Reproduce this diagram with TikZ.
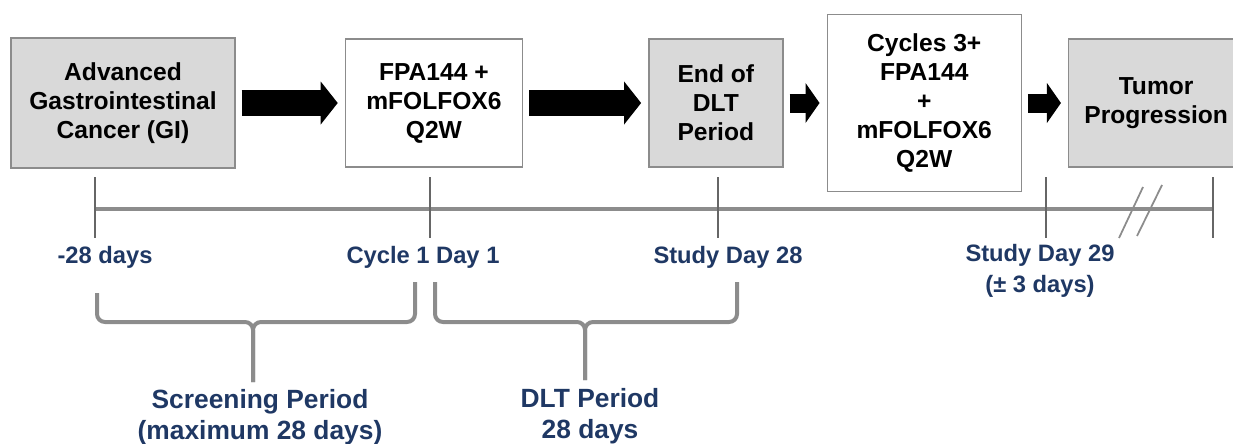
\documentclass[tikz,border=0pt]{standalone}
\usepackage{fontspec}
\setmainfont{Liberation Sans}
\usetikzlibrary{arrows.meta, positioning}
\definecolor{navy}{RGB}{31,56,100}
\definecolor{boxgrey}{RGB}{217,217,217}
\definecolor{edgegrey}{RGB}{140,140,140}
\definecolor{linegrey}{RGB}{140,140,140}

\begin{document}
\begin{tikzpicture}[
    node distance=2cm,
    greybox/.style={rectangle, minimum height=2.56cm, text centered, align=center, draw=edgegrey, line width=0.8pt, fill=boxgrey, font=\fontsize{14}{16.5}\selectfont\bfseries},
    whitebox/.style={greybox, fill=white},
    bigarrow/.style={line width=0.52cm, -{Triangle[length=0.34cm, width=0.86cm, line width=0pt]}, shorten <=0.12cm, shorten >=0.14cm},
    smallarrow/.style={line width=0.38cm, -{Triangle[length=0.28cm, width=0.8cm, line width=0pt]}, shorten <=0.12cm, shorten >=0.14cm},
    timeline/.style={draw=linegrey, line width=0.09cm},
    tickline/.style={draw=black!60, line width=0.6pt},
    slash/.style={draw=linegrey, line width=1pt},
    brace/.style={draw=linegrey, line width=0.08cm, rounded corners=0.16cm},
    daylabel/.style={text=navy, font=\fontsize{13.5}{18}\selectfont\bfseries, align=center},
    periodlabel/.style={text=navy, font=\fontsize{15}{17.5}\selectfont\bfseries, align=center}
]
\useasboundingbox (0,0) rectangle (24.66,-8.86);

% study flow
\node (gi) [greybox, minimum width=4.48cm, minimum height=2.6cm] at (2.46,-2.06) {Advanced\\Gastrointestinal\\Cancer (GI)};
\node (fpa) [whitebox, minimum width=3.54cm, right=2.18cm of gi] {FPA144 +\\mFOLFOX6\\Q2W};
\node (enddlt) [greybox, minimum width=2.68cm, right=2.5cm of fpa] {End of\\DLT\\Period};
\node (cyc3) [whitebox, minimum width=3.88cm, minimum height=3.54cm, right=0.86cm of enddlt] {Cycles 3+\\FPA144\\+\\mFOLFOX6\\Q2W};
\node (tumor) [greybox, minimum width=3.5cm, right=0.92cm of cyc3] {Tumor\\Progression};

\draw [bigarrow] (gi.east) -- (fpa.west);
\draw [bigarrow] (fpa.east) -- (enddlt.west);
\draw [smallarrow] (enddlt.east) -- (cyc3.west);
\draw [smallarrow] (cyc3.east) -- (tumor.west);

% timeline
\coordinate (tl) at (0,-4.18);
\foreach \x [count=\i] in {1.9, 8.6, 14.36, 20.92, 24.26} {
    \coordinate (tk\i) at (\x,-3.54);
}
\draw [timeline] (tk1 |- tl) -- (tk5 |- tl);
\foreach \i in {1,...,5} {
    \draw [tickline] (tk\i) -- ++(0,-1.22);
}
\draw [slash] (22.86,-3.74) -- (22.38,-4.76);
\draw [slash] (23.24,-3.70) -- (22.74,-4.72);

\node (d1) [daylabel] at (2.1,-5.14) {-28 days};
\node (d2) [daylabel] at (8.46,-5.14) {Cycle 1 Day 1};
\node (d3) [daylabel] at (14.56,-5.14) {Study Day 28};
\node (d4) [daylabel] at (20.8,-5.42) {Study Day 29\\(± 3 days)};

% braces
\coordinate (s1) at (1.94,-5.86);
\coordinate (s2) at (8.3,-5.64);
\coordinate (stip) at (5.06,-7.64);
\coordinate (p1) at (8.7,-5.64);
\coordinate (p2) at (14.74,-5.64);
\coordinate (ptip) at (11.7,-7.6);
\coordinate (bar) at (0,-6.44);
\draw [brace] (s1) |- (stip |- bar) -- (stip);
\draw [brace] (s2) |- (stip |- bar) -- (stip);
\draw [brace] (p1) |- (ptip |- bar) -- (ptip);
\draw [brace] (p2) |- (ptip |- bar) -- (ptip);

\node (screen) [periodlabel] at (5.2,-8.34) {Screening Period\\(maximum 28 days)};
\node (dltp) [periodlabel] at (11.8,-8.32) {DLT Period\\28 days};

\end{tikzpicture}
\end{document}
